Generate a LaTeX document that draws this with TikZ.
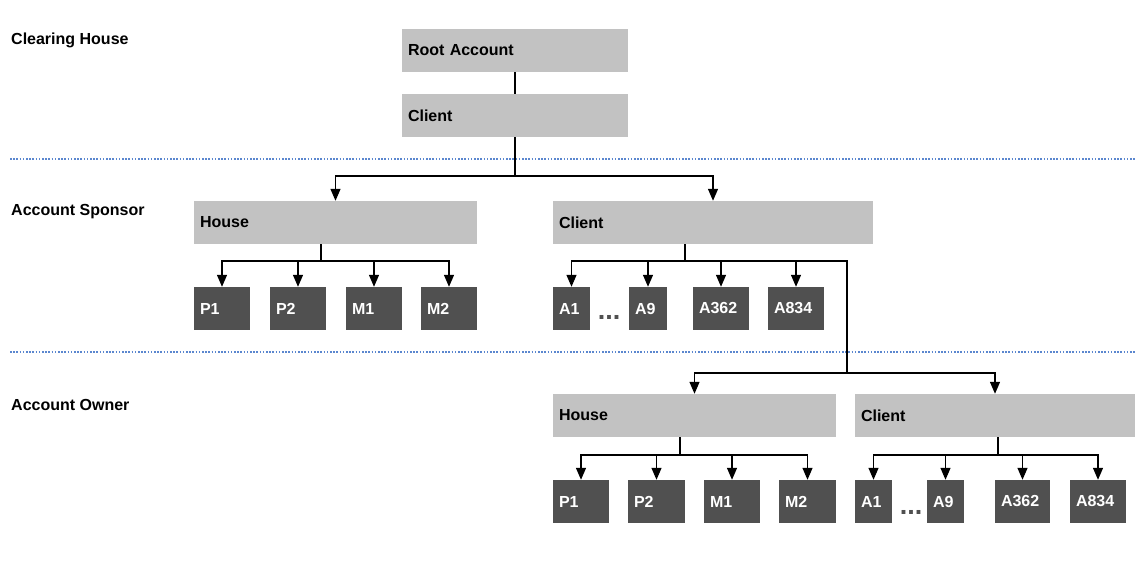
\documentclass[tikz,border=0pt]{standalone}
\usepackage{fontspec}
\setmainfont{Liberation Sans}
\usetikzlibrary{arrows.meta}
\definecolor{lgray}{HTML}{C2C2C2}
\definecolor{dgray}{HTML}{505050}
\definecolor{sepblue}{HTML}{5B87CF}
\newcommand\bx[7]{%
  \pgfmathsetlengthmacro\mytw{#4-#2-12}%
  \node[#6, minimum width={#4-#2}, minimum height={#5-#3}, text width=\mytw]
    (#1) at ({(#2+#4)/2},{(#3+#5)/2}) {#7};}
\begin{document}
\begin{tikzpicture}[x=1pt,y=-1pt,
  font=\bfseries\fontsize{16}{19}\selectfont,
  lt/.style={rectangle, fill=lgray, inner xsep=6pt, inner ysep=0pt, align=left, text=black},
  dk/.style={rectangle, fill=dgray, inner xsep=6pt, inner ysep=0pt, align=left, text=white},
  ln/.style={line width=1.3pt, black},
  arr/.style={ln, -{Triangle[length=12pt,width=10pt]}},
  sep/.style={sepblue, line width=1.3pt, dash pattern=on 1.6pt off 1.6pt},
  lvl/.style={anchor=west, inner sep=0pt, text=black},
  dots/.style={text=dgray, inner sep=0pt, font=\bfseries\fontsize{27}{30}\selectfont}]
\useasboundingbox (0,0) rectangle (1135,569);
\fill[white] (0,0) rectangle (1135,569);

% level labels
\node[lvl] (lch) at (11,40) {Clearing House};
\node[lvl] (las) at (11,212) {Account Sponsor};
\node[lvl] (lao) at (11,405) {Account Owner};

% separators
\coordinate (s1a) at (10,159); \coordinate (s1b) at (1135,159);
\coordinate (s2a) at (10,352); \coordinate (s2b) at (1135,352);
\draw[sep] (s1a) -- (s1b);
\draw[sep] (s2a) -- (s2b);

% clearing house
\bx{root}{402}{29}{628}{72}{lt}{Root Account}
\bx{cl}{402}{94}{628}{137}{lt}{Client}

% account sponsor
\bx{sh}{194}{201}{477}{244}{lt}{House}
\bx{sc}{553}{201}{873}{244}{lt}{Client}
\bx{p1}{194}{287}{250}{330}{dk}{P1}
\bx{p2}{270}{287}{326}{330}{dk}{P2}
\bx{m1}{346}{287}{402}{330}{dk}{M1}
\bx{m2}{421}{287}{477}{330}{dk}{M2}
\bx{a1}{553}{287}{590}{330}{dk}{A1}
\bx{a9}{629}{287}{667}{330}{dk}{A9}
\bx{a362}{693}{287}{749}{330}{dk}{A362}
\bx{a834}{768}{287}{824}{330}{dk}{A834}
\node[dots] (d1) at (609,317.5) {...};

% account owner
\bx{oh}{553}{394}{836}{437}{lt}{House}
\bx{oc}{855}{394}{1135}{437}{lt}{Client}
\bx{op1}{553}{480}{609}{523}{dk}{P1}
\bx{op2}{628}{480}{685}{523}{dk}{P2}
\bx{om1}{704}{480}{760}{523}{dk}{M1}
\bx{om2}{779}{480}{836}{523}{dk}{M2}
\bx{oa1}{855}{480}{892}{523}{dk}{A1}
\bx{oa9}{927}{480}{964}{523}{dk}{A9}
\bx{oa362}{995}{480}{1050}{523}{dk}{A362}
\bx{oa834}{1070}{480}{1126}{523}{dk}{A834}
\node[dots] (d2) at (911,512) {...};

% connectors: clearing house
\draw[ln] (root.south) -- (cl.north);
\coordinate (j0) at (515,176);
\draw[ln] (cl.south -| j0) -- (j0);
\draw[arr] (j0) -| (sh.north);
\draw[arr] (j0) -| (sc.north);

% sponsor house
\coordinate (j1) at (321,261);
\draw[ln] (sh.south -| j1) -- (j1);
\draw[arr] (j1) -| (p1.north);
\draw[arr] (j1) -| (p2.north);
\draw[arr] (j1) -| (m1.north);
\draw[arr] (j1) -| (m2.north);

% sponsor client
\coordinate (j2) at (685,261);
\coordinate (j3) at (847,373);
\draw[ln] (sc.south -| j2) -- (j2);
\draw[arr] (j2) -| (a1.north);
\draw[arr] (j2) -| (a9.north);
\draw[arr] (j2) -| (a362.north);
\draw[arr] (j2) -| (a834.north);
\draw[ln] (j2) -| (j3);
\draw[arr] (j3) -| (oh.north);
\draw[arr] (j3) -| (oc.north);

% owner house
\coordinate (j4) at (680,455);
\draw[ln] (oh.south -| j4) -- (j4);
\draw[arr] (j4) -| (op1.north);
\draw[arr] (j4) -| (op2.north);
\draw[arr] (j4) -| (om1.north);
\draw[arr] (j4) -| (om2.north);

% owner client
\coordinate (j5) at (998,455);
\draw[ln] (oc.south -| j5) -- (j5);
\draw[arr] (j5) -| (oa1.north);
\draw[arr] (j5) -| (oa9.north);
\draw[arr] (j5) -| (oa362.north);
\draw[arr] (j5) -| (oa834.north);
\end{tikzpicture}
\end{document}
